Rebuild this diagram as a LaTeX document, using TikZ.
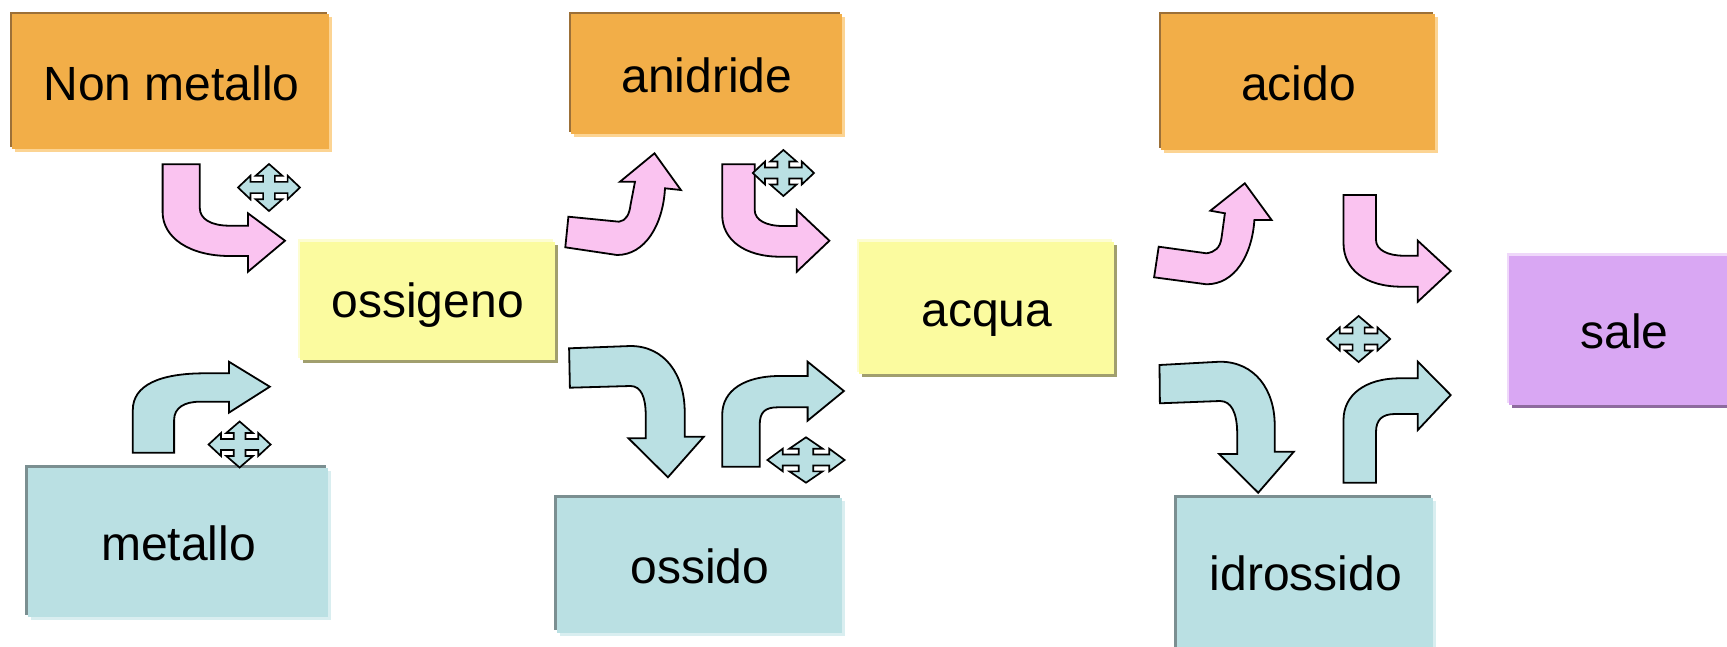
\documentclass[tikz,border=0pt]{standalone}
\usepackage{fontspec}
\setmainfont{Liberation Sans}
\usetikzlibrary{shadows}

% fills and edge tones
\definecolor{orF}{HTML}{F2AE48}
\definecolor{orD}{HTML}{9C7038}
\definecolor{orL}{HTML}{FCD493}
\definecolor{yeF}{HTML}{FBFB9F}
\definecolor{yeL}{HTML}{FDFDD2}
\definecolor{yeD}{HTML}{A19F6E}
\definecolor{blF}{HTML}{BAE0E3}
\definecolor{blD}{HTML}{7B8F91}
\definecolor{blL}{HTML}{D9EEF0}
\definecolor{puF}{HTML}{D9A7F3}
\definecolor{puL}{HTML}{EFD8FA}
\definecolor{puD}{HTML}{8E6B9E}
\definecolor{pkF}{HTML}{FAC3F0}

\tikzset{
  panel/.style={inner sep=0pt, anchor=north west, draw=none},
  edged/.style n args={3}{fill=#1,
    general shadow={fill=#3, shadow xshift=3pt, shadow yshift=-3pt},
    general shadow={fill=#2, shadow xshift=-2.5pt, shadow yshift=2.5pt}},
  orangebox/.style={panel, edged={orF}{orD}{orL}},
  bluebox/.style={panel, edged={blF}{blD}{blL}},
  yellowbox/.style={panel, edged={yeF}{yeL}{yeD}},
  purplebox/.style={panel, edged={puF}{puL}{puD}},
  word/.style={anchor=base, inner sep=0pt, font=\fontsize{48}{58}\selectfont},
  blockarrow/.style={draw=black, line width=1.8pt, line join=miter},
  pinkarrow/.style={blockarrow, fill=pkF},
  bluearrow/.style={blockarrow, fill=blF},
  crossfill/.style={draw=black, line width=1.7pt, fill=blF, line join=miter},
  movemark/.pic={
    \draw[crossfill] (0,1) -- (0.43,0.5) -- (0.19,0.5) -- (0.19,0.24) -- (0.6,0.24)
      -- (0.6,0.5) -- (1,0) -- (0.6,-0.5) -- (0.6,-0.24) -- (0.19,-0.24)
      -- (0.19,-0.5) -- (0.43,-0.5) -- (0,-1) -- (-0.43,-0.5) -- (-0.19,-0.5)
      -- (-0.19,-0.24) -- (-0.6,-0.24) -- (-0.6,-0.5) -- (-1,0) -- (-0.6,0.5)
      -- (-0.6,0.24) -- (-0.19,0.24) -- (-0.19,0.5) -- (-0.43,0.5) -- cycle;
  }
}

\begin{document}
\begin{tikzpicture}[x=1pt, y=-1pt]
\useasboundingbox (0,0) rectangle (1727,646);
\clip (0,0) rectangle (1727,646);

% boxes
\node[orangebox, minimum width=317pt, minimum height=135pt] (nonmet) at (12,14) {};
\node[orangebox, minimum width=271pt, minimum height=120pt] (anidr) at (571,14) {};
\node[orangebox, minimum width=274pt, minimum height=136pt] (acido) at (1161,14) {};
\node[yellowbox, minimum width=255pt, minimum height=118.5pt] (ossig) at (300,241.5) {};
\node[yellowbox, minimum width=255pt, minimum height=132.5pt] (acqua) at (859,241.5) {};
\node[purplebox, minimum width=240pt, minimum height=149.3pt] (sale) at (1509,255.7) {};
\node[bluebox, minimum width=300.5pt, minimum height=149.5pt] (metal) at (27.5,467.5) {};
\node[bluebox, minimum width=285.5pt, minimum height=135pt] (ossido) at (556.5,497.5) {};
\node[bluebox, minimum width=256.5pt, minimum height=170pt] (idross) at (1176.5,497.5) {};

% labels
\node[word] (tnonmet) at (171.5,100) {Non metallo};
\node[word] (tanidr) at (707,92.7) {anidride};
\node[word] (tacido) at (1298.4,100) {acido};
\node[word] (tossig) at (427.7,317) {ossigeno};
\node[word] (tacqua) at (987,326) {acqua};
\node[word] (tsale) at (1624.6,348.3) {sale};
\node[word] (tmetal) at (178.6,560) {metallo};
\node[word] (tossido) at (700,583) {ossido};
\node[word] (tidross) at (1306,590.5) {idrossido};

% pink bent arrows: down then right
\draw[pinkarrow] (162.6,164.3) -- (199.8,164.3) -- (199.8,208)
  .. controls (199.8,219) and (211,225.7) .. (229.6,225.7) -- (248,225.7)
  -- (248,213.3) -- (285,240.7) -- (248,271.7) -- (248,256) -- (229.6,256)
  .. controls (190,256) and (162.6,238) .. (162.6,212) -- cycle;
\draw[pinkarrow] (722.2,164.3) -- (754.7,164.3) -- (754.7,210)
  .. controls (754.7,220) and (766,226) .. (783,226) -- (796.8,226)
  -- (796.8,210) -- (829.4,240.7) -- (796.8,271.7) -- (796.8,256.7) -- (780,256.7)
  .. controls (745,256.7) and (722.2,240) .. (722.2,215) -- cycle;
\draw[pinkarrow] (1343.5,195) -- (1376,195) -- (1376,240)
  .. controls (1376,250) and (1388,255.7) .. (1403.6,255.7) -- (1417.8,255.7)
  -- (1417.8,240.7) -- (1450.7,271) -- (1417.8,301.7) -- (1417.8,286.7) -- (1401.7,286.7)
  .. controls (1366,286.7) and (1343.5,270) .. (1343.5,243) -- cycle;

% pink bent arrows: right then up
\draw[pinkarrow] (568.4,216.7) -- (618.9,221.7)
  .. controls (626,221) and (629.5,214) .. (630.5,205) -- (635,181.7)
  -- (620,181.7) -- (654.5,153.3) -- (680.9,190) -- (665,188.3)
  .. controls (663,225) and (645,255) .. (617,255) -- (565.3,247.3) -- cycle;
\draw[pinkarrow] (1158.7,246.7) -- (1206.5,253.3)
  .. controls (1215,252) and (1220,248) .. (1221.5,238) -- (1224.9,213.3)
  -- (1210.4,210.7) -- (1244.8,183.3) -- (1271.6,220) -- (1254.4,220)
  .. controls (1252,255) and (1235,284.3) .. (1206.5,284.3) -- (1154.1,277.3) -- cycle;

% blue bent arrows: up then right
\draw[bluearrow] (132.8,452.7) -- (132.8,410)
  .. controls (132.8,385) and (160,373.3) .. (205,373.3) -- (228.9,373.3)
  -- (228.9,361.7) -- (269.8,386.7) -- (228.9,412.7) -- (228.9,401.7) -- (200,401.7)
  .. controls (184,401.7) and (174.1,408) .. (174.1,420) -- (174.1,452.7) -- cycle;
\draw[bluearrow] (722.2,466.7) -- (722.2,415)
  .. controls (722.2,390) and (745,376) .. (780,376) -- (807.6,376)
  -- (807.6,361.7) -- (843.9,391) -- (807.6,420.7) -- (807.6,407.3) -- (778,407.3)
  .. controls (765,407.3) and (759.7,412) .. (759.7,425) -- (759.7,466.7) -- cycle;
\draw[bluearrow] (1343.5,482.7) -- (1343.5,420)
  .. controls (1343.5,395) and (1365,378.3) .. (1400,378.3) -- (1417.8,378.3)
  -- (1417.8,361.7) -- (1450.7,395) -- (1417.8,430) -- (1417.8,414) -- (1395,414)
  .. controls (1382,414) and (1376,420) .. (1376,432) -- (1376,482.7) -- cycle;

% blue bent arrows: right then down
\draw[bluearrow] (569.1,348.3) -- (630.4,346)
  .. controls (665,346) and (684.7,375) .. (684.7,412) -- (684.7,436.7)
  -- (703.8,436.7) -- (667.9,477.3) -- (628.5,438.3) -- (645.7,438.3) -- (645.7,415)
  .. controls (645.7,397) and (641,386) .. (630.4,386) -- (569.9,387.7) -- cycle;
\draw[bluearrow] (1159.5,365) -- (1219.9,361.7)
  .. controls (1255,361.7) and (1274.7,390) .. (1274.7,425) -- (1274.7,451.7)
  -- (1293.8,451.7) -- (1258.2,492.7) -- (1219.2,454) -- (1237.2,454) -- (1237.2,433)
  .. controls (1237,412) and (1231,401) .. (1219.9,401) -- (1159.9,403.3) -- cycle;

% four-way move marks
\path (269,187.5) pic[xscale=31, yscale=23.5] {movemark};
\path (239.6,444.5) pic[xscale=31, yscale=23] {movemark};
\path (783.4,173) pic[xscale=30.6, yscale=23] {movemark};
\path (806,460) pic[xscale=38.6, yscale=22.7] {movemark};
\path (1358.6,339) pic[xscale=31.6, yscale=23] {movemark};
\end{tikzpicture}
\end{document}
